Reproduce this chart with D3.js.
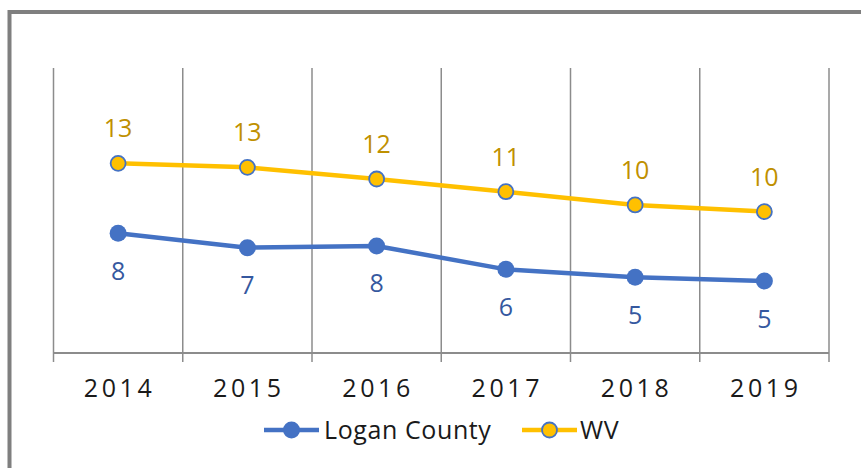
<!DOCTYPE html>
<html><head><meta charset="utf-8">
<script src="https://cdn.jsdelivr.net/npm/d3@7"></script>
<style>
html,body{margin:0;padding:0;background:#fff;}
svg{display:block;font-family:"Open Sans","Noto Sans",sans-serif;}
</style></head>
<body><svg id="chart" width="861" height="468"></svg>
<script>
const years = ["2014","2015","2016","2017","2018","2019"];
const loganValues = [8.40, 7.39, 7.51, 5.87, 5.31, 5.05];
const wvValues = [13.31, 13.03, 12.21, 11.32, 10.39, 9.92];
const seriesNames = ["Logan County", "WV"];

const svg = d3.select("#chart");
const W = 861, H = 468;
const plot = {left: 53.5, right: 829, top: 68, bottom: 353};

const x = d3.scaleBand().domain(years).range([plot.left, plot.right]).padding(0);
const y = d3.scaleLinear().domain([0, 20]).range([plot.bottom, plot.top]);
const cx = d => x(d) + x.bandwidth() / 2;

// frame
svg.append("rect").attr("x", 9.5).attr("y", 12).attr("width", W + 10).attr("height", H + 10)
  .attr("fill", "none").attr("stroke", "#7f7f7f").attr("stroke-width", 4);

// vertical gridlines at category boundaries
const edges = years.map(d => x(d)).concat([plot.right]);
svg.append("g").selectAll("line").data(edges).join("line")
  .attr("x1", d => d).attr("x2", d => d)
  .attr("y1", plot.top).attr("y2", plot.bottom)
  .attr("stroke", "#8c8c8c").attr("stroke-width", 1.5);

// x axis
const xAxis = d3.axisBottom(x).tickSize(0).tickPadding(0);
const gx = svg.append("g").attr("transform", `translate(0,${plot.bottom})`).call(xAxis);
gx.select(".domain").remove();
gx.selectAll("text").remove();
svg.append("line").attr("x1", plot.left).attr("x2", plot.right)
  .attr("y1", plot.bottom).attr("y2", plot.bottom)
  .attr("stroke", "#8c8c8c").attr("stroke-width", 2);
svg.append("g").selectAll("line").data(edges).join("line")
  .attr("x1", d => d).attr("x2", d => d)
  .attr("y1", plot.bottom).attr("y2", plot.bottom + 9)
  .attr("stroke", "#8c8c8c").attr("stroke-width", 1.5);
svg.append("g").selectAll("text").data(years).join("text")
  .attr("x", d => cx(d) + 1.5).attr("y", 397)
  .attr("text-anchor", "middle")
  .attr("font-size", 25).attr("letter-spacing", 3.6)
  .attr("fill", "#1a1a1a").text(d => d);

const line = d3.line().x((d, i) => cx(years[i])).y(d => y(d));
const fmt = d3.format(".0f");

// Logan line
svg.append("path").datum(loganValues).attr("d", line)
  .attr("fill", "none").attr("stroke", "#4472C4").attr("stroke-width", 4.5).attr("stroke-linejoin", "round");
svg.append("g").selectAll("circle").data(loganValues).join("circle")
  .attr("cx", (d, i) => cx(years[i])).attr("cy", d => y(d)).attr("r", 8.5)
  .attr("fill", "#4472C4");
svg.append("g").selectAll("text").data(loganValues).join("text")
  .attr("x", (d, i) => cx(years[i])).attr("y", d => y(d) + 46.5)
  .attr("text-anchor", "middle").attr("font-size", 25)
  .attr("fill", "#35589f").text(d => fmt(d));

// WV line
svg.append("path").datum(wvValues).attr("d", line)
  .attr("fill", "none").attr("stroke", "#FFC000").attr("stroke-width", 4.5).attr("stroke-linejoin", "round");
svg.append("g").selectAll("circle").data(wvValues).join("circle")
  .attr("cx", (d, i) => cx(years[i])).attr("cy", d => y(d)).attr("r", 7.5)
  .attr("fill", "#FFC000").attr("stroke", "#4472C4").attr("stroke-width", 1.8);
svg.append("g").selectAll("text").data(wvValues).join("text")
  .attr("x", (d, i) => cx(years[i])).attr("y", d => y(d) - 26)
  .attr("text-anchor", "middle").attr("font-size", 25)
  .attr("fill", "#BF9000").text(d => fmt(d));

// legend
const legend = [
  {name: seriesNames[0], x0: 264, color: "#4472C4", fill: "#4472C4", stroke: "none", r: 8.5, tx: 324},
  {name: seriesNames[1], x0: 522, color: "#FFC000", fill: "#FFC000", stroke: "#4472C4", r: 7.5, tx: 580}
];
const lg = svg.append("g").selectAll("g").data(legend).join("g");
lg.append("line").attr("x1", d => d.x0).attr("x2", d => d.x0 + 55)
  .attr("y1", 430).attr("y2", 430).attr("stroke", d => d.color).attr("stroke-width", 4.5);
lg.append("circle").attr("cx", d => d.x0 + 27.5).attr("cy", 430).attr("r", d => d.r)
  .attr("fill", d => d.fill).attr("stroke", d => d.stroke).attr("stroke-width", 1.8);
lg.append("text").attr("x", d => d.tx).attr("y", 439)
  .attr("font-size", 25).attr("letter-spacing", 0.6).attr("fill", "#1a1a1a").text(d => d.name);
</script></body></html>
